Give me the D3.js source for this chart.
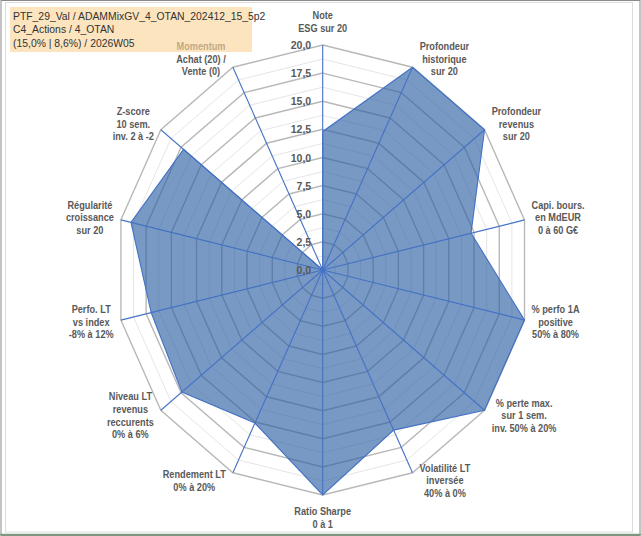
<!DOCTYPE html>
<html>
<head>
<meta charset="utf-8">
<script src="https://cdn.jsdelivr.net/npm/d3@7"></script>
<style>
  body { margin: 0; background: #fff; }
</style>
</head>
<body>
<div id="chart"></div>
<script>
// DATA
const titleLines = [
    "PTF_29_Val / ADAMMixGV_4_OTAN_202412_15_5p2",
    "C4_Actions / 4_OTAN",
    "(15,0% | 8,6%) / 2026W05"
];
const axisLabels = [
    ["Note", "ESG sur 20"],
    ["Profondeur", "historique", "sur 20"],
    ["Profondeur", "revenus", "sur 20"],
    ["Capi. bours.", "en MdEUR", "0 à 60 G€"],
    ["% perfo 1A", "positive", "50% à 80%"],
    ["% perte max.", "sur 1 sem.", "inv. 50% à 20%"],
    ["Volatilité LT", "inversée", "40% à 0%"],
    ["Ratio Sharpe", "0 à 1"],
    ["Rendement LT", "0% à 20%"],
    ["Niveau LT", "revenus", "reccurents", "0% à 6%"],
    ["Perfo. LT", "vs index", "-8% à 12%"],
    ["Régularité", "croissance", "sur 20"],
    ["Z-score", "10 sem.", "inv. 2 à -2"],
    ["Momentum", "Achat (20) /", "Vente (0)"]
];
const values = [12.3, 20, 20, 14.7, 20, 20, 15.8, 20, 15.1, 17.4, 17.0, 19.0, 17.2, 0];
const tickValues = [0, 2.5, 5, 7.5, 10, 12.5, 15, 17.5, 20];
const tickLabels = ["0,0", "2,5", "5,0", "7,5", "10,0", "12,5", "15,0", "17,5", "20,0"];
const minorValues = [1.25, 3.75, 6.25, 8.75, 11.25, 13.75, 16.25, 18.75];

// SETUP
const W = 641, H = 536;
const sx = 0.92;              // the chart is squeezed horizontally
const cx = 322.7 / sx, cy = 270, R = 225;
const n = axisLabels.length;

const svg = d3.select("#chart").append("svg")
    .attr("width", W)
    .attr("height", H);

svg.append("rect").attr("width", W).attr("height", H).attr("fill", "#fff");

// frame
svg.append("rect")
    .attr("x", 5.5).attr("y", 2.5)
    .attr("width", 627).attr("height", 529.5)
    .attr("fill", "none").attr("stroke", "#dcdcdc");
svg.append("rect")
    .attr("x", 1).attr("y", 0.5)
    .attr("width", 639).attr("height", 535)
    .attr("fill", "none").attr("stroke", "#8a8a8a");
svg.append("line")
    .attr("x1", 0).attr("x2", W).attr("y1", 534.5).attr("y2", 534.5)
    .attr("stroke", "#78a078").attr("stroke-width", 1.5);

const g = svg.append("g").attr("transform", `scale(${sx},1)`);

// SCALES
const r = d3.scaleLinear().domain([0, 20]).range([0, R]);
const angle = d3.scaleLinear().domain([0, n]).range([0, 2 * Math.PI]);
const idx = d3.range(n);

const plot = g.append("g").attr("transform", `translate(${cx},${cy})`);

const ring = v => d3.lineRadial()
    .angle((d, i) => angle(i))
    .radius(r(v))
    .curve(d3.curveLinearClosed)(idx);

// gridlines
plot.selectAll(".minor")
    .data(minorValues)
    .enter().append("path")
    .attr("d", d => ring(d))
    .attr("fill", "none")
    .attr("stroke", "#e4e4e4")
    .attr("stroke-width", 1);

plot.selectAll(".major")
    .data(tickValues.slice(1))
    .enter().append("path")
    .attr("d", d => ring(d))
    .attr("fill", "none")
    .attr("stroke", "#b8b8b8")
    .attr("stroke-width", 1.5);

// series
plot.append("path")
    .attr("d", d3.lineRadial()
        .angle((d, i) => angle(i))
        .radius(d => r(d))
        .curve(d3.curveLinearClosed)(values))
    .attr("fill", "#2b5ea3")
    .attr("fill-opacity", 0.63)
    .attr("stroke", "#4472c4")
    .attr("stroke-width", 1.2);

// spokes
plot.selectAll(".spoke")
    .data(idx)
    .enter().append("line")
    .attr("x1", 0).attr("y1", 0)
    .attr("x2", i => r(20) * Math.sin(angle(i)))
    .attr("y2", i => -r(20) * Math.cos(angle(i)))
    .attr("stroke", "#4472c4")
    .attr("stroke-width", 1.2);

// tick labels
plot.selectAll(".tick")
    .data(tickValues)
    .enter().append("text")
    .attr("x", -12.5)
    .attr("y", d => -r(d) + 4)
    .attr("text-anchor", "end")
    .attr("font-family", "Liberation Sans, Arial, sans-serif")
    .attr("font-weight", "bold")
    .attr("font-size", 11.5)
    .attr("fill", "#595959")
    .text((d, i) => tickLabels[i]);

// axis labels
const lineH = 12.7;
axisLabels.forEach((lines, i) => {
    const th = angle(i);
    const s = Math.sin(th), c = Math.cos(th);
    const vx = r(20) * s, vy = -r(20) * c;
    const t = plot.append("text")
        .attr("text-anchor", "middle")
        .attr("font-family", "Liberation Sans, Arial, sans-serif")
        .attr("font-weight", "bold")
        .attr("font-size", 10)
        .attr("fill", "#595959");
    lines.forEach((l, j) => {
        t.append("tspan").attr("x", 0).attr("y", j * lineH).text(l);
    });
    const w = t.node().getBBox().width;
    const halfH = lines.length * lineH / 2;
    let x, yc;
    if (Math.abs(s) < 0.1) {
        x = vx;
        yc = vy - c * (halfH + 10);
    } else {
        x = vx + Math.sign(s) * (w / 2 + 7.6);
        yc = vy - c * 9;
    }
    t.attr("transform", `translate(${x},${yc - halfH + lineH / 2 + 3.5})`);
});

// title box (drawn over the chart, semi transparent)
g.append("rect")
    .attr("x", 10 / sx).attr("y", 7)
    .attr("width", 242 / sx).attr("height", 45)
    .attr("fill", "#fad499")
    .attr("fill-opacity", 0.64);

g.selectAll(".title")
    .data(titleLines)
    .enter().append("text")
    .attr("x", 13 / sx)
    .attr("y", (d, i) => 19.6 + i * 13.6)
    .attr("font-family", "Liberation Sans, Arial, sans-serif")
    .attr("font-size", 11.3)
    .attr("fill", "#333")
    .text(d => d);
</script>
</body>
</html>
